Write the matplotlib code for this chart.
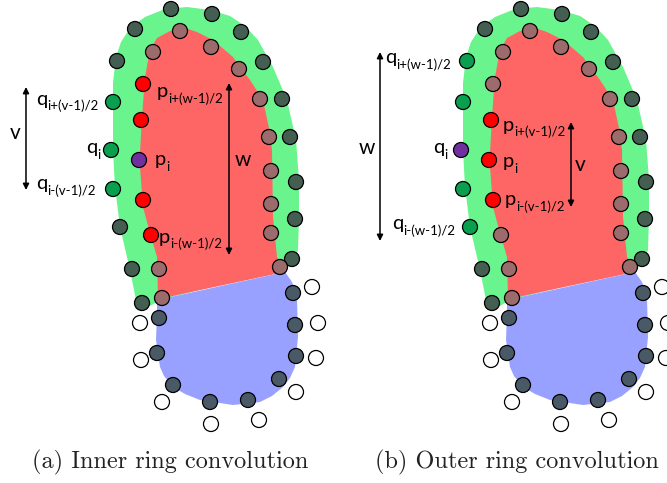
import matplotlib
matplotlib.use("Agg")
import matplotlib.pyplot as plt
from matplotlib.patches import Polygon, Circle

# ---- data (pixel coordinates of the left panel; right panel is shifted) ----
panel_offsets = [0, 350]
captions = ["(a) Inner ring convolution", "(b) Outer ring convolution"]
caption_x = [170, 517]

green_region = [(137, 305), (130, 270), (120, 227), (115, 187), (113, 150), (113, 120),
                (113, 83), (116, 57), (121, 42), (130, 28), (145, 17), (165, 9), (187, 7),
                (210, 10), (230, 16), (245, 26), (258, 40), (273, 67), (287, 100),
                (296, 140), (299, 180), (299, 217), (298, 250), (293, 263), (286, 268),
                (160, 300), (150, 306)]
red_region = [(158, 299), (157, 257), (150, 233), (143, 207), (140, 167), (140, 153),
              (142, 117), (145, 77), (150, 50), (157, 38), (170, 31), (185, 28),
              (197, 32), (213, 40), (233, 57), (250, 80), (263, 100), (270, 133),
              (272, 150), (273, 217), (277, 257), (285, 272)]
blue_region = [(157, 300), (285, 272), (292, 282), (297, 297), (298, 337), (295, 367),
               (290, 378), (283, 387), (272, 396), (260, 402), (233, 405), (200, 400),
               (185, 394), (173, 387), (164, 376), (160, 367), (156, 340), (157, 313)]

outer_ring = [(117, 61), (113, 102), (111, 150), (113, 189), (120, 227), (132, 269),
              (142, 303), (135, 29), (171, 9), (212, 14), (241, 32), (263, 62),
              (282, 99), (290, 137), (296, 182), (295, 219), (292, 259)]
inner_ring = [(153, 52), (143, 84), (141, 120), (139, 160), (143, 200), (151, 235),
              (159, 269), (162, 298), (180, 31), (211, 47), (239, 69), (260, 99),
              (269, 137), (271, 171), (271, 204), (271, 233), (280, 267)]
blue_ring = [(293, 293), (295, 325), (296, 356), (279, 379), (248, 400), (210, 402),
             (173, 385), (157, 353), (159, 318)]
white_ring = [(312, 287), (318, 323), (316, 358), (296, 392), (259, 420), (211, 424),
              (162, 402), (141, 360), (140, 323)]

# role of each ring point per panel: 'd' dark, 'g' green, 'p' purple, 'b' brown, 'r' red
outer_roles_a = ["d", "g", "g", "g", "d"] + ["d"] * 12
outer_roles_b = ["g", "g", "p", "g", "g"] + ["d"] * 12
inner_roles_a = ["b", "r", "r", "p", "r", "r"] + ["b"] * 11
inner_roles_b = ["b", "b", "r", "r", "r", "b"] + ["b"] * 11

# labels: (x, y, main, sub) in absolute pixels
labels_a = [(36, 99, "q", "i+(v-1)/2"), (86, 148, "q", "i"), (36, 184, "q", "i-(v-1)/2"),
            (157, 92, "p", "i+(w-1)/2"), (155, 160, "p", "i"), (159, 237, "p", "i-(w-1)/2")]
labels_b = [(385, 58, "q", "i+(w-1)/2"), (433, 148, "q", "i"), (392, 224, "q", "i-(w-1)/2"),
            (503, 125, "p", "i+(v-1)/2"), (503, 162, "p", "i"), (505, 200, "p", "i-(v-1)/2")]
letters = [(15, 133, "v"), (243, 160, "w"), (367, 148, "w"), (580, 165, "v")]
arrows = [(26, 87, 190), (229, 83, 255), (380, 52, 241), (571, 122, 207)]

colors = {"d": "#445E52", "g": "#0A9F4F", "p": "#7030A0", "b": "#9C6B6B", "r": "#FF0000",
          "s": "#4A5966", "w": "#FFFFFF"}

fig = plt.figure(figsize=(6.67, 4.83), dpi=100)
ax = fig.add_axes([0, 0, 1, 1])
ax.set_xlim(0, 667)
ax.set_ylim(483, 0)
ax.axis("off")

R = 7.5


def circ(x, y, c):
    ax.add_patch(Circle((x, y), R, facecolor=colors[c], edgecolor="black", lw=0.9, zorder=5))


for k, off in enumerate(panel_offsets):
    sh = lambda pts: [(x + off, y) for x, y in pts]
    ax.add_patch(Polygon(sh(green_region), closed=True, facecolor="#69F48E", edgecolor="none", zorder=1))
    ax.add_patch(Polygon(sh(red_region), closed=True, facecolor="#FE6565", edgecolor="none", zorder=2))
    ax.add_patch(Polygon(sh(blue_region), closed=True, facecolor="#98A1FF", edgecolor="none", zorder=3))
    oroles = outer_roles_a if k == 0 else outer_roles_b
    iroles = inner_roles_a if k == 0 else inner_roles_b
    for (x, y), r in zip(outer_ring, oroles):
        circ(x + off, y, r)
    for (x, y), r in zip(inner_ring, iroles):
        circ(x + off, y, r)
    for x, y in blue_ring:
        circ(x + off, y, "s")
    for x, y in white_ring:
        circ(x + off, y, "w")
    ax.text(caption_x[k], 462, captions[k], family="cmr10", fontsize=17.5, ha="center",
            va="center", color="#222222")

for x, y, m, s in labels_a + labels_b:
    t = ax.text(x, y, m, family="Lato", fontsize=14.5, ha="left", va="center", color="black")
    ax.annotate(s, xy=(1.0, 0.0), xycoords=t, xytext=(0.3, -1.5), textcoords="offset points",
                family="Lato", fontsize=9.5, ha="left", va="baseline", color="black")

for x, y, s in letters:
    ax.text(x, y, s, family="Lato", fontsize=15, ha="center", va="center")

for x, y0, y1 in arrows:
    ax.annotate("", xy=(x, y0), xytext=(x, y1),
                arrowprops=dict(arrowstyle="<|-|>", color="black", lw=1.1,
                                mutation_scale=9, shrinkA=0, shrinkB=0))

fig.savefig("out.png", dpi=100)
